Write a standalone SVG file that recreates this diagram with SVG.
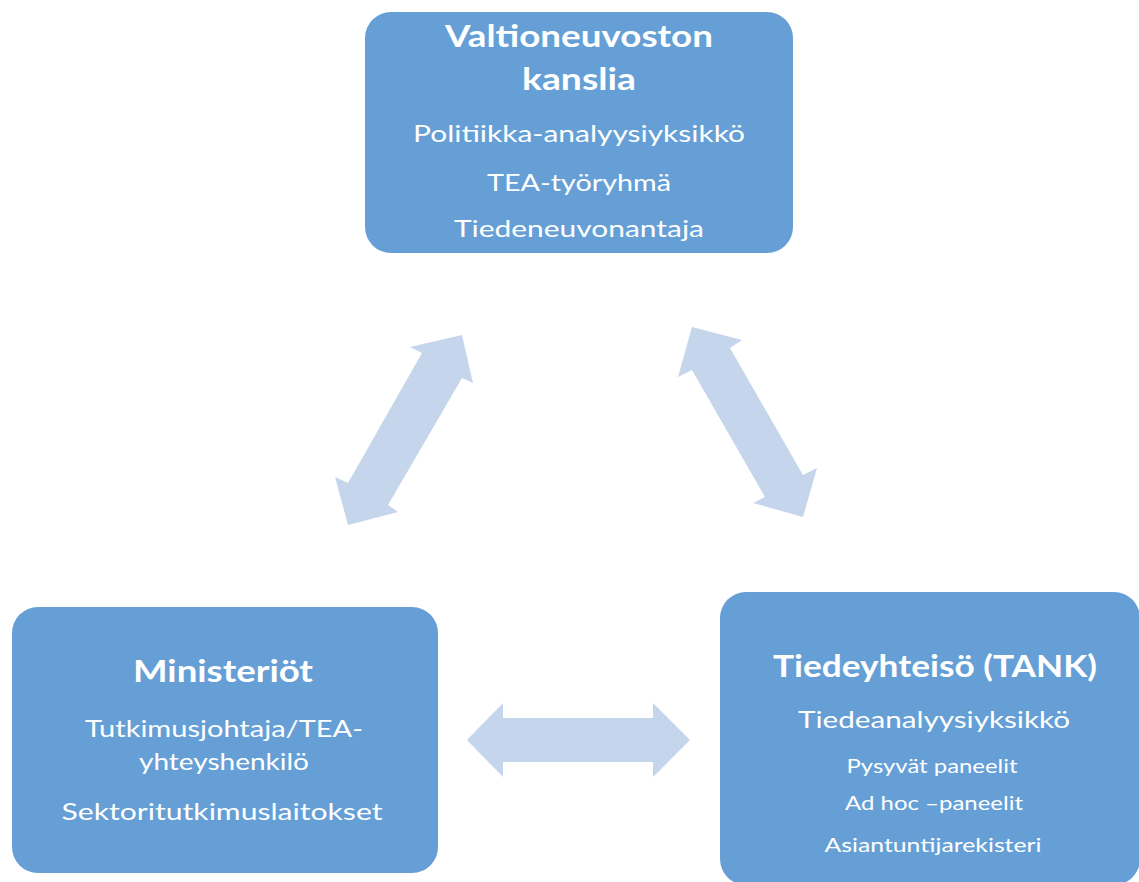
<svg xmlns="http://www.w3.org/2000/svg" width="1139" height="882" viewBox="0 0 1139 882">
<style>
.box{fill:#659FD6}
.arr{fill:#C5D5EC}
text{fill:#FFFFFF;font-family:Lato,"Open Sans","Liberation Sans",sans-serif;text-anchor:middle}
.t{font-weight:bold;font-size:30px}
.s{font-size:24px}
.x{font-size:19px}
</style>
<rect width="1139" height="882" fill="#FFFFFF"/>
<g id="connectors">
<polygon class="arr" points="462,335 473,383 462,378 388,505 398,512 348,525 335,477 348,483 422,353 410,347"/>
<polygon class="arr" points="692,327 742,340 730,348 803,475 817,468 803,517 753,503 765,497 692,370 678,377"/>
<polygon class="arr" points="467,740 503,703 503,718 653,718 653,703 690,740 653,777 653,762 503,762 503,777"/>
</g>
<g id="node-vnk">
<rect class="box" x="365" y="12" width="428" height="241" rx="26"/>
<text class="t" x="579" y="47" textLength="268" lengthAdjust="spacingAndGlyphs">Valtioneuvoston</text>
<text class="t" x="579" y="90" textLength="114" lengthAdjust="spacingAndGlyphs">kanslia</text>
<text class="s" x="579" y="142" textLength="332" lengthAdjust="spacingAndGlyphs">Politiikka-analyysiyksikkö</text>
<text class="s" x="579" y="191" textLength="184" lengthAdjust="spacingAndGlyphs">TEA-työryhmä</text>
<text class="s" x="579" y="237" textLength="250" lengthAdjust="spacingAndGlyphs">Tiedeneuvonantaja</text>
</g>
<g id="node-ministeriot">
<rect class="box" x="12" y="607" width="426" height="266" rx="26"/>
<text class="t" x="223" y="682" textLength="180" lengthAdjust="spacingAndGlyphs">Ministeriöt</text>
<text class="s" x="224" y="737" textLength="278" lengthAdjust="spacingAndGlyphs">Tutkimusjohtaja/TEA-</text>
<text class="s" x="224" y="770" textLength="170" lengthAdjust="spacingAndGlyphs">yhteyshenkilö</text>
<text class="s" x="222" y="820" textLength="321" lengthAdjust="spacingAndGlyphs">Sektoritutkimuslaitokset</text>
</g>
<g id="node-tiedeyhteiso">
<rect class="box" x="720" y="592" width="420" height="293" rx="26"/>
<text class="t" x="935" y="677" textLength="324" lengthAdjust="spacingAndGlyphs">Tiedeyhteisö (TANK)</text>
<text class="s" x="934" y="728" textLength="272" lengthAdjust="spacingAndGlyphs">Tiedeanalyysiyksikkö</text>
<text class="x" x="932" y="773" textLength="171" lengthAdjust="spacingAndGlyphs">Pysyvät paneelit</text>
<text class="x" x="934" y="810" textLength="178" lengthAdjust="spacingAndGlyphs">Ad hoc –paneelit</text>
<text class="x" x="933" y="852" textLength="217" lengthAdjust="spacingAndGlyphs">Asiantuntijarekisteri</text>
</g>
</svg>
